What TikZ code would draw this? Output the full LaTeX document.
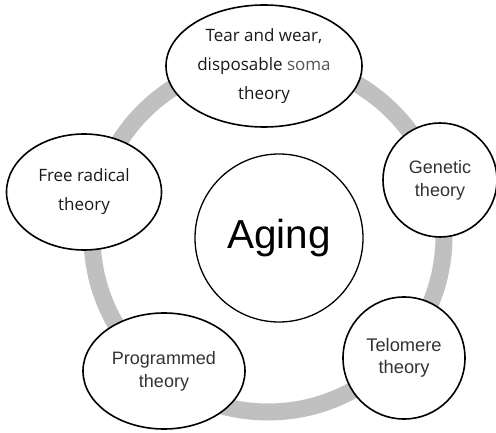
\documentclass[tikz,border=0pt]{standalone}
\usepackage{fontspec}
\setmainfont{Liberation Sans}
\newfontfamily\roundsans{Open Sans}
\usetikzlibrary{shapes.geometric}
\definecolor{ringgray}{HTML}{C0C0C0}
\definecolor{thintext}{HTML}{333333}
\definecolor{somagray}{HTML}{555555}
\begin{document}
\begin{tikzpicture}[x=1pt,y=-1pt,
  theory/.style={draw=black, line width=1.6pt, fill=white, inner sep=0pt, align=center},
  oval/.style={theory, ellipse},
  round/.style={theory, circle},
  ring/.style={draw=ringgray, line width=17pt}]
  \useasboundingbox (0,0) rectangle (496,433);
  % grey ring linking the theories
  \coordinate (hub) at (268,236);
  \draw[ring] (hub) circle[radius=176];
  % centre
  \node[round, line width=1.3pt, minimum size=168pt, font=\fontsize{40.5}{46}\selectfont] (aging) at (279,238) {Aging};
  % surrounding theories
  \node[oval, minimum width=196pt, minimum height=122pt,
        font=\roundsans\fontsize{17}{29}\selectfont, text=black!90] (wear) at (264,66)
        {Tear and wear,\\disposable \textcolor{somagray}{soma}\\theory};
  \node[round, minimum size=114pt, font=\fontsize{18}{23}\selectfont, text=thintext] (genetic) at (440,180)
        {Genetic\\theory};
  \node[round, minimum size=122pt, font=\fontsize{18.3}{22}\selectfont, text=thintext] (telomere) at (404,358)
        {Telomere\\theory};
  \node[oval, minimum width=162pt, minimum height=116pt, font=\fontsize{18}{23}\selectfont, text=thintext] (programmed) at (164,371)
        {Programmed\\theory};
  \node[oval, minimum width=155pt, minimum height=116pt,
        font=\roundsans\fontsize{17}{29}\selectfont, text=black!90] (radical) at (84,192)
        {Free radical\\theory};
\end{tikzpicture}
\end{document}
